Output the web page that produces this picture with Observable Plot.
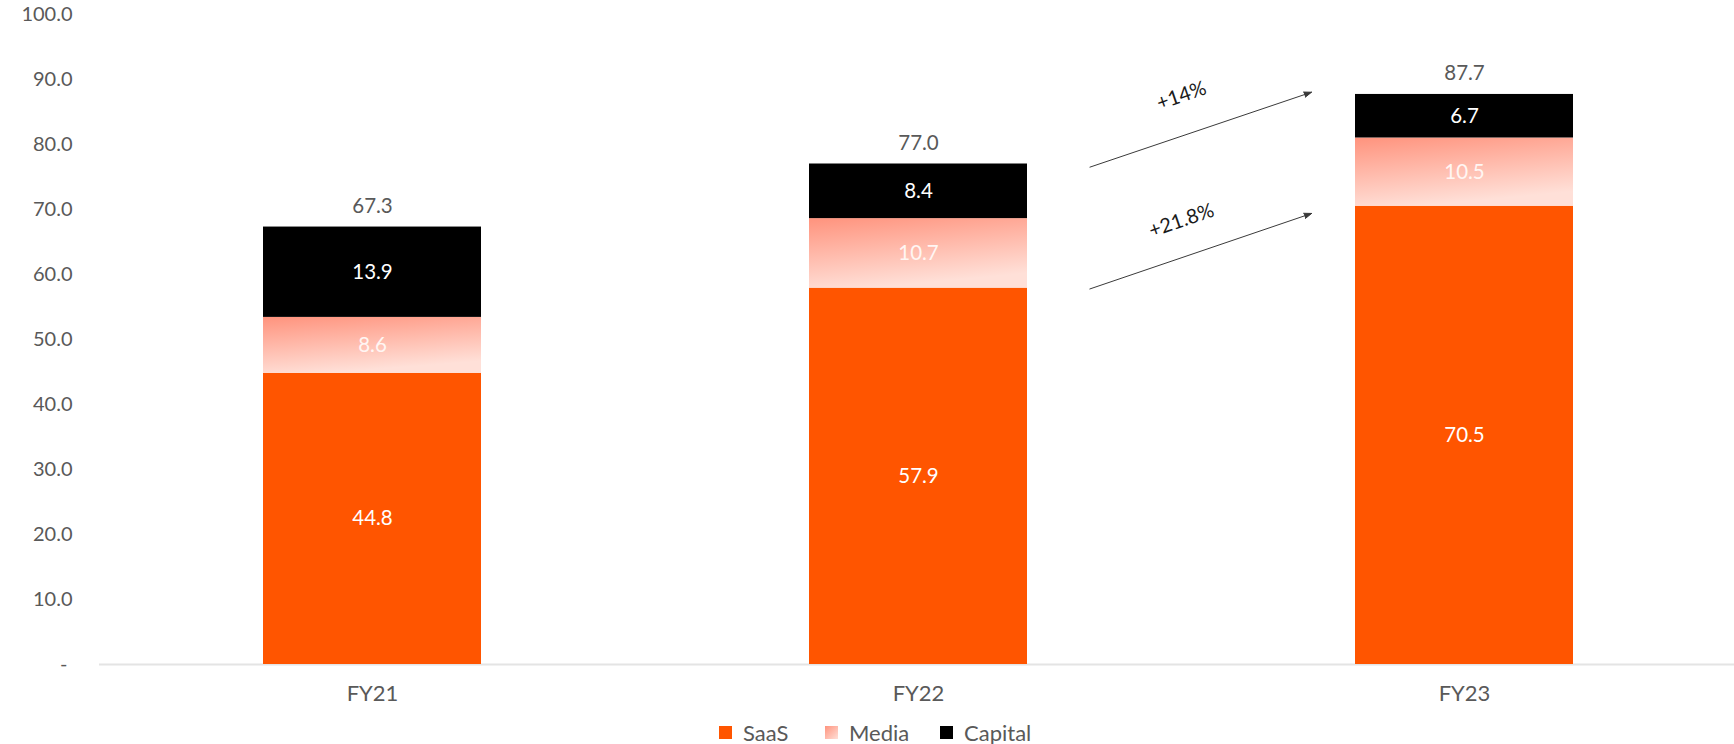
<!DOCTYPE html>
<html>
<head>
<meta charset="utf-8">
<script src="https://cdn.jsdelivr.net/npm/d3@7"></script>
<script src="https://cdn.jsdelivr.net/npm/@observablehq/plot@0.6"></script>
<style>
  body { margin: 0; background: #fff; font-family: Lato, "Noto Sans", sans-serif; }
  #legend { position: relative; height: 32px; font-size: 22px; color: #595959; }
  .item { position: absolute; top: 6px; display: flex; align-items: center; height: 28px; }
  .sw { width: 13px; height: 13px; margin-right: 11px; }
</style>
</head>
<body>
<div id="chart"></div>
<div id="legend"></div>
<script>
// ---- data ----
const years = ["FY21", "FY22", "FY23"];
const series = ["SaaS", "Media", "Capital"];
const saas = [44.8, 57.9, 70.5];
const media = [8.6, 10.7, 10.5];
const capital = [13.9, 8.4, 6.7];
const totals = [67.3, 77.0, 87.7];
const yTicks = [0, 10, 20, 30, 40, 50, 60, 70, 80, 90, 100];

// growth annotations (arrow drawn along the line FY22 -> FY23, y values at band centres)
const growthLabels = ["+14%", "+21.8%"];
const growthArrowY1 = [67.6, 48.8];
const growthArrowY2 = [96.0, 77.4];
const growthLabelY = [87.5, 68.3];

const seriesColors = {SaaS: "#FF5500", Media: "url(#mediaGrad)", Capital: "#000000"};
const seriesLabelColor = {SaaS: "#ffffff", Media: "#fff6f3", Capital: "#ffffff"};

// ---- derived table ----
const values = {SaaS: saas, Media: media, Capital: capital};
const rows = [];
years.forEach((year, i) => {
  let acc = 0;
  for (const s of series) {
    const v = values[s][i];
    rows.push({year, series: s, value: v, y1: acc, y2: acc + v, mid: acc + v / 2});
    acc += v;
  }
});
const totalRows = years.map((year, i) => ({year, total: totals[i]}));
const growth = growthLabels.map((label, i) => ({
  label, from: years[1], to: years[2],
  y1: growthArrowY1[i], y2: growthArrowY2[i], ly: growthLabelY[i]
}));

const chart = Plot.plot({
  width: 1734,
  height: 712,
  marginLeft: 99,
  marginRight: -4,
  marginTop: 14,
  marginBottom: 48,
  style: {fontFamily: 'Lato, "Noto Sans", sans-serif', fontSize: "20px", color: "#595959", background: "white", overflow: "hidden"},
  x: {domain: years, paddingInner: 0.6, paddingOuter: 0.3},
  y: {domain: [0, 100]},
  marks: [
    Plot.axisX({tickSize: 0, tickPadding: 21, fontSize: 22, label: null, fill: "#595959"}),
    Plot.axisY({ticks: yTicks, tickFormat: d => d === 0 ? "-\u00a0" : d.toFixed(1),
      tickSize: 0, tickPadding: 27, fontSize: 20, label: null, fill: "#595959"}),
    Plot.ruleY([0], {stroke: "#e4e4e4", strokeWidth: 2}),
    ...series.map(s => Plot.barY(rows.filter(d => d.series === s),
      {x: "year", y1: "y1", y2: "y2", fill: seriesColors[s]})),
    ...series.map(s => Plot.text(rows.filter(d => d.series === s),
      {x: "year", y: "mid", text: d => d.value.toFixed(1), fill: seriesLabelColor[s], fontSize: 20.5})),
    Plot.text(totalRows, {x: "year", y: "total", text: d => d.total.toFixed(1), dy: -21, fill: "#595959", fontSize: 20.5}),
    Plot.arrow(growth, {x1: "from", x2: "to", y1: "y1", y2: "y2", bend: 0,
      insetStart: 181, insetEnd: 161.5, stroke: "#3a3a3a", strokeWidth: 1, fill: "#3a3a3a",
      headLength: 12, headAngle: 40}),
    Plot.text(growth, {x: "to", y: "ly", text: "label", dx: -283, rotate: -19, fill: "#1a1a1a", fontSize: 20})
  ]
});

// gradient definition for Media segments
const ns = "http://www.w3.org/2000/svg";
const defs = document.createElementNS(ns, "defs");
const grad = document.createElementNS(ns, "linearGradient");
grad.setAttribute("id", "mediaGrad");
grad.setAttribute("x1", "0"); grad.setAttribute("y1", "0");
grad.setAttribute("x2", "0.3"); grad.setAttribute("y2", "1");
[["0", "#FF937D"], ["1", "#FFE0D8"]].forEach(([o, c]) => {
  const st = document.createElementNS(ns, "stop");
  st.setAttribute("offset", o); st.setAttribute("stop-color", c);
  grad.appendChild(st);
});
defs.appendChild(grad);
chart.insertBefore(defs, chart.firstChild);
document.getElementById("chart").appendChild(chart);

// legend below the chart
const legendFill = {SaaS: "#FF5500", Media: "linear-gradient(135deg, #FF937D, #FFE0D8)", Capital: "#000000"};
const legendLeft = {SaaS: 719, Media: 825, Capital: 940};
const legend = document.getElementById("legend");
series.forEach(s => {
  const item = document.createElement("div");
  item.className = "item";
  item.style.left = legendLeft[s] + "px";
  const sw = document.createElement("div");
  sw.className = "sw";
  sw.style.background = legendFill[s];
  const t = document.createElement("span");
  t.textContent = s;
  item.appendChild(sw); item.appendChild(t);
  legend.appendChild(item);
});
</script>
</body>
</html>
